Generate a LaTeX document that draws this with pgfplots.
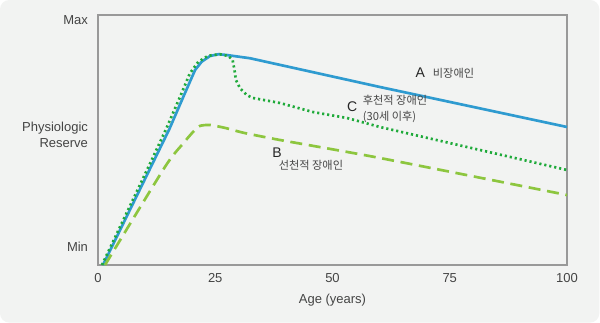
\documentclass[border=0pt]{standalone}
\usepackage{pgfplots}
\pgfplotsset{compat=1.18}
\usepackage{fontspec}
\setmainfont{Liberation Sans}
\newfontfamily\kr{Noto Sans CJK KR}
\definecolor{bg}{HTML}{F2F3F2}
\definecolor{cblue}{HTML}{2F9BD0}
\definecolor{cdot}{HTML}{1FAA3A}
\definecolor{cdash}{HTML}{8DC63F}
\definecolor{txt}{HTML}{444444}
\begin{document}
\begin{tikzpicture}
\path[use as bounding box] (-73.5pt,-43.5pt) rectangle (376.5pt,198.75pt);
\fill[white] (-73.5pt,-43.5pt) rectangle (376.5pt,198.75pt);
\fill[bg, rounded corners=7pt] (-73.5pt,-43.2pt) rectangle (376.0pt,198.75pt);
\begin{axis}[
  at={(0,0)}, anchor=south west, scale only axis,
  width=351.75pt, height=187.5pt,
  xmin=0, xmax=100, ymin=0, ymax=100,
  axis line style={draw=black!40, line width=0.8pt},
  major tick length=0pt,
  xtick={0,25,50,75,100},
  ytick={7.2,52,98},
  yticklabels={Min,{Physiologic\\Reserve},Max},
  /pgf/number format/assume math mode=true,
  tick label style={font=\fontsize{9.75pt}{11.5pt}\selectfont, text=txt},
  yticklabel style={align=right, xshift=-4pt},
  xticklabel style={yshift=-3pt},
  xlabel={Age (years)},
  xlabel style={font=\fontsize{9.75pt}{11.5pt}\selectfont, text=txt, at={(axis description cs:0.5,0)}, anchor=center, yshift=-26pt},
  clip=false,
]
% A: non-disabled
\addplot[cblue, line width=2pt, line join=round] coordinates {
(1.07,0) (15.2,54.3) (18.2,67.3) (20.7,78) (22.1,81.3) (23.9,83.6) (25.7,84.3) (27.4,84) (32.4,82.7) (60.1,71.2) (100,55.2)
};
% C: acquired
\addplot[cdot, line width=2pt, dash pattern=on 1.6pt off 2.2pt] coordinates {
(0.85,0) (11.45,42) (14.5,54.3) (17.5,67.3) (19.6,76.7) (21.4,81.3) (23.5,83.7) (26,84.3) (27.8,83.6) (28.7,82) (29.1,78) (29.4,74) (30.3,70.7) (31.7,68) (33,66.8) (38.8,64.8) (45.8,61.2) (53.1,58.8) (60.1,55.2) (100,38)
};
% B: congenital
\addplot[cdash, line width=2pt, dash pattern=on 9pt off 5pt, smooth, tension=0.4] coordinates {
(1.5,0) (14.3,39.3) (18.2,48.7) (20.3,53.3) (21.7,55.6) (23.9,56) (27.4,54.7) (31,52.9) (38.8,50) (60.1,42.8) (100,28)
};
\node[font=\fontsize{10.5pt}{12pt}\selectfont, text=black!85] at (axis cs:68.7,76.8) {A};
\node[font=\kr\fontsize{8.4pt}{10pt}\selectfont, text=black!72] at (axis cs:75.8,76.8) {비장애인};
\node[font=\fontsize{10.5pt}{12pt}\selectfont, text=black!85] at (axis cs:54.2,63.2) {C};
\node[font=\kr\fontsize{8.4pt}{12pt}\selectfont, text=black!72, align=left, anchor=west, inner sep=0pt] at (axis cs:56.4,62.4) {후천적 장애인\\(30세 이후)};
\node[font=\fontsize{10.5pt}{12pt}\selectfont, text=black!85] at (axis cs:38.2,44.8) {B};
\node[font=\kr\fontsize{8.4pt}{10pt}\selectfont, text=black!72] at (axis cs:45.4,40) {선천적 장애인};
\end{axis}
\end{tikzpicture}
\end{document}
